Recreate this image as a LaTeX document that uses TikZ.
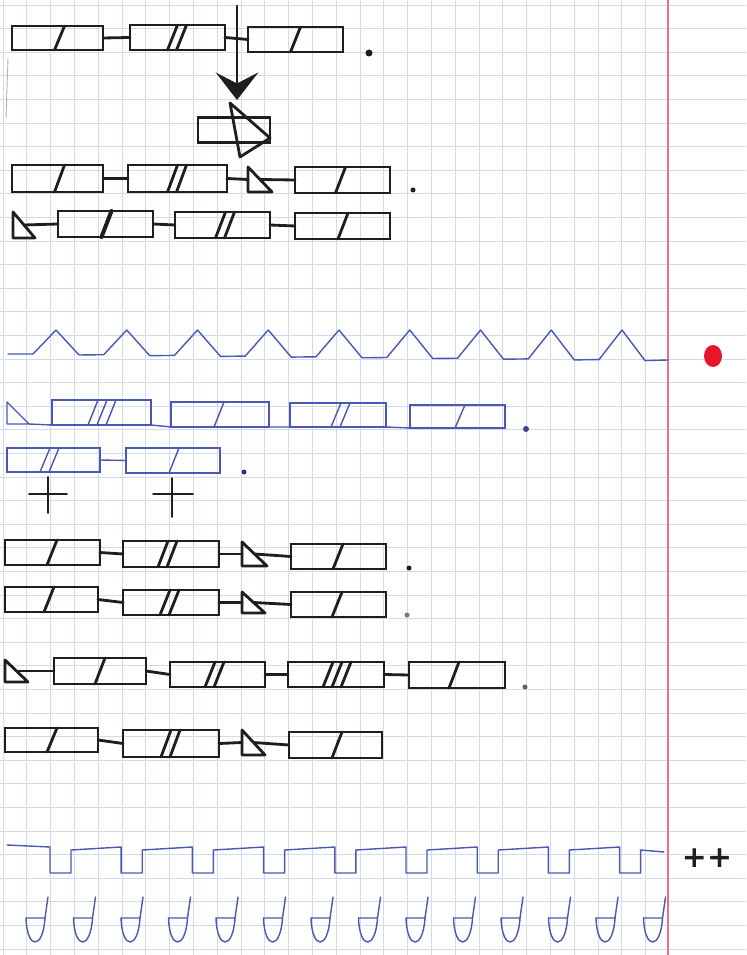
\documentclass[tikz,border=0pt]{standalone}
\usepackage{fontspec}
\usepackage{tikz}
\usetikzlibrary{arrows.meta,calc}
\newfontfamily\plusfont{DejaVu Sans}
\definecolor{Ink}{HTML}{1E1E1E}
\definecolor{Pen}{HTML}{4A58B0}
\definecolor{GridBlue}{HTML}{D2DAEE}
\definecolor{Margin}{HTML}{E8708C}
\definecolor{RedDot}{HTML}{E8162C}
\tikzset{gridline/.style={draw=GridBlue,line width=0.45pt},ink/.style={draw=Ink,line width=1.6pt,line join=round,line cap=round},pen/.style={draw=Pen,line width=0.8pt,line join=round,line cap=round},box/.style={draw=Ink,line width=1.6pt,inner sep=0pt,outer sep=0pt},bluebox/.style={box,draw=Pen,line width=0.8pt},wh/.style 2 args={minimum width=#1*0.02cm,minimum height=#2*0.02cm},pics/wedge/.style n args={3}{code={\draw[#1] (0,0) -- (0,#3) -- (#2,#3) -- cycle; \coordinate (-west) at (0,#3/2); \coordinate (-mid) at (#2/2,#3/2); \coordinate (-foot) at (#2,#3);}}}
\newcommand{\strokes}[4][ink]{\foreach \k in {1,...,#4}{\draw[#1] ($(#2.south)+({#3+(\k-1)*9},0)$) -- ($(#2.north)+({#3+(\k-1)*9+10},0)$);}}
\begin{document}
\begin{tikzpicture}[x=0.02cm,y=-0.02cm]
      \useasboundingbox (0,0) rectangle (746,955);
      \fill[white] (0,0) rectangle (746,955);
      \foreach \k in {0,...,27}{\draw[gridline] ({3+23.8*\k},0) -- ({3+23.8*\k},955);}
      \foreach \k in {0,...,40}{\draw[gridline] (0,{5+23.6*\k}) -- (746,{5+23.6*\k});}
      \draw[Margin,line width=1.2pt] (668,0) -- (668,955);
      \draw[gray!60,line width=0.5pt] (8,58) -- (6,118);
      % first chain and the arrow
      \node[box,wh={91}{24}] (r1a) at (57.5,38) {};
      \node[box,wh={95}{25}] (r1b) at (177.5,37.5) {};
      \node[box,wh={95}{25}] (r1c) at (295.5,39.5) {};
      \draw[ink] (r1a.east) -- (r1b.west); \draw[ink] (r1b.east) -- (r1c.west);
      \strokes{r1a}{-3}{1} \strokes{r1b}{-10}{2} \strokes{r1c}{-5}{1}
      \fill[Ink] (369,53) circle (3.5);
      \coordinate (shaft) at (237,6); \coordinate (tip) at (237,100);
      \draw[ink,-{Stealth[length=0.55cm,width=0.85cm,inset=0.22cm]}] (shaft) -- (tip);
      \node[box,wh={72}{25}] (sb) at (234,130) {};
      \draw[ink] (230,103) -- (270,138) -- (240,157) -- cycle;
      \node[box,wh={91}{27}] (r3a) at (57.5,178.5) {};
      \node[box,wh={99}{27}] (r3b) at (177.5,178.5) {};
      \pic (w3) at (248,167) {wedge={ink}{24}{25}};
      \node[box,wh={95}{26}] (r3c) at (342.5,180) {};
      \draw[ink] (r3a.east) -- (r3b.west); \draw[ink] (r3b.east) -- (w3-west); \draw[ink] (w3-mid) -- (r3c.west);
      \strokes{r3a}{-3}{1} \strokes{r3b}{-10}{2} \strokes{r3c}{-7}{1}
      \fill[Ink] (413,190) circle (2.5);
      \pic (w4) at (13,212) {wedge={ink}{22}{26}};
      \node[box,wh={95}{26}] (r4a) at (105.5,224) {};
      \node[box,wh={95}{26}] (r4b) at (222.5,225) {};
      \node[box,wh={95}{26}] (r4c) at (342.5,226) {};
      \draw[ink] (w4-mid) -- (r4a.west); \draw[ink] (r4a.east) -- (r4b.west); \draw[ink] (r4b.east) -- (r4c.west);
      \strokes[ink,line width=2.3pt]{r4a}{-4}{1} \strokes{r4b}{-7}{2} \strokes{r4c}{-4.5}{1}
      % blue pen
      \draw[pen] (8,354) \foreach \k in {0,...,8}{ -- ({33+70.75*\k},{354+0.7*\k}) -- ({56+70.75*\k},330) -- ({79+70.75*\k},{355+0.7*\k})} -- (668,360);
      \fill[RedDot] (713,356) ellipse (9 and 11);
      \pic (wb1) at (7,402) {wedge={pen}{22}{22}};
      \node[bluebox,wh={99}{25}] (b1a) at (101.5,412.5) {};
      \node[bluebox,wh={98}{25}] (b1b) at (220,414.5) {};
      \node[bluebox,wh={96}{24}] (b1c) at (338,415) {};
      \node[bluebox,wh={95}{23}] (b1d) at (457.5,416.5) {};
      \draw[pen] (wb1-foot) -- (b1a.south west); \draw[pen] (b1a.south east) -- (b1b.south west); \draw[pen] (b1b.south east) -- (b1c.south west); \draw[pen] (b1c.south east) -- (b1d.south west);
      \strokes[pen]{b1a}{-13.5}{3} \strokes[pen]{b1b}{-6}{1} \strokes[pen]{b1c}{-7}{2} \strokes[pen]{b1d}{-2.5}{1}
      \fill[Pen!80!black] (526,429) circle (3);
      \node[bluebox,wh={93}{24}] (b2a) at (53.5,460) {};
      \node[bluebox,wh={94}{25}] (b2b) at (173,460.5) {};
      \draw[pen] (b2a.east) -- (b2b.west);
      \strokes[pen]{b2a}{-13.5}{2} \strokes[pen]{b2b}{-4}{1}
      \fill[Pen!60!black] (244,472) circle (2.5);
      \draw[ink,line width=1pt] (48,477) -- (48,513) (29,494) -- (67,494);
      \draw[ink,line width=1pt] (172,478) -- (172,517) (153,494) -- (193,494);
      % second block of chains
      \node[box,wh={95}{25}] (r5a) at (52.5,552.5) {};
      \node[box,wh={96}{26}] (r5b) at (171,554) {};
      \pic (w5) at (242,542) {wedge={ink}{25}{24}};
      \node[box,wh={95}{25}] (r5c) at (338.5,556.5) {};
      \draw[ink] (r5a.east) -- (r5b.west); \draw[ink] (r5b.east) -- (w5-west); \draw[ink] (w5-mid) -- (r5c.west);
      \strokes{r5a}{-5.5}{1} \strokes{r5b}{-13}{2} \strokes{r5c}{-5.5}{1}
      \fill[Ink] (409,568) circle (2.5);
      \node[box,wh={93}{25}] (r6a) at (51.5,599.5) {};
      \node[box,wh={96}{25}] (r6b) at (171,602.5) {};
      \pic (w6) at (242,592) {wedge={ink}{23}{21}};
      \node[box,wh={95}{25}] (r6c) at (338.5,604.5) {};
      \draw[ink] (r6a.east) -- (r6b.west); \draw[ink] (r6b.east) -- (w6-west); \draw[ink] (w6-mid) -- (r6c.west);
      \strokes{r6a}{-7.5}{1} \strokes{r6b}{-11}{2} \strokes{r6c}{-6.5}{1}
      \fill[Ink!60] (407,615) circle (2.5);
      \pic (w7) at (5,660) {wedge={ink}{23}{22}};
      \node[box,wh={92}{26}] (r7a) at (100,671) {};
      \node[box,wh={95}{25}] (r7b) at (217.5,674.5) {};
      \node[box,wh={96}{25}] (r7c) at (336,674.5) {};
      \node[box,wh={96}{26}] (r7d) at (457,675) {};
      \draw[ink] (w7-mid) -- (r7a.west); \draw[ink] (r7a.east) -- (r7b.west); \draw[ink] (r7b.east) -- (r7c.west); \draw[ink] (r7c.east) -- (r7d.west);
      \strokes{r7a}{-5}{1} \strokes{r7b}{-12.5}{2} \strokes{r7c}{-13}{3} \strokes{r7d}{-8}{1}
      \fill[Ink!70] (525,687) circle (2.5);
      \node[box,wh={93}{24}] (r8a) at (51.5,740) {};
      \node[box,wh={96}{27}] (r8b) at (171,743.5) {};
      \pic (w8) at (242,730) {wedge={ink}{23}{25}};
      \node[box,wh={93}{26}] (r8c) at (335.5,745) {};
      \draw[ink] (r8a.east) -- (r8b.west); \draw[ink] (r8b.east) -- (w8-west); \draw[ink] (w8-mid) -- (r8c.west);
      \strokes{r8a}{-4.5}{1} \strokes{r8b}{-10}{2} \strokes{r8c}{-3.5}{1}
      % bottom waves
      \draw[pen] (7,845) \foreach \k in {0,...,8}{ -- ({50+71.2*\k},847) -- ({50+71.2*\k},873) -- ({71+71.2*\k},873) -- ({71+71.2*\k},850)} -- (664,852);
      \node[text=Ink,font=\plusfont\bfseries\fontsize{17}{17}\selectfont,inner sep=0pt] (plus) at (707,858) {++};
      \foreach \k [evaluate=\k as \x using 26+47.5*\k] in {0,...,13}{
        \draw[pen] (\x,918) -- (\x+19,918) -- (\x+22,897);
        \draw[pen] (\x,918) .. controls (\x+1,950) and (\x+17,950) .. (\x+19,918);}
    \end{tikzpicture}
\end{document}
